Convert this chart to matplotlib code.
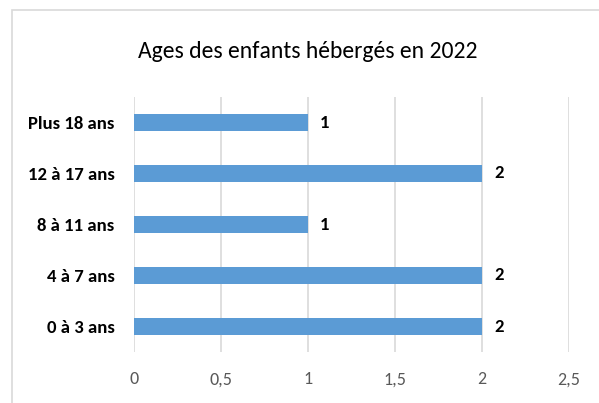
import matplotlib
matplotlib.use("Agg")
import matplotlib.pyplot as plt
from matplotlib.patches import Rectangle

categories = ["0 à 3 ans", "4 à 7 ans", "8 à 11 ans", "12 à 17 ans", "Plus 18 ans"]
values = [2, 2, 1, 2, 1]
xticks = [0, 0.5, 1, 1.5, 2, 2.5]
xtick_labels = ["0", "0,5", "1", "1,5", "2", "2,5"]
title = "Ages des enfants hébergés en 2022"

plt.rcParams['font.family'] = ['Carlito', 'DejaVu Sans']

W, H = 599, 403
fig = plt.figure(figsize=(W/100, H/100), dpi=100)
fig.patch.set_facecolor("white")

# outer frame (chart area border)
fig.add_artist(Rectangle((12/W, -0.1), 1.2, (H-10)/H + 0.1, transform=fig.transFigure,
                         fill=False, edgecolor="#d9d9d9", linewidth=1.2))

left, right = 134/W, 569/W
top, bottom = 1 - 97/H, 1 - 352/H
ax = fig.add_axes([left, bottom, right-left, top-bottom])
ax.barh(range(len(categories)), values, height=0.33, color="#5b9bd5", zorder=3)
ax.set_xlim(0, 2.5)
ax.set_ylim(-0.5, len(categories)-0.5)
ax.set_xticks(xticks)
ax.set_xticklabels(xtick_labels, fontsize=13, color="#595959")
ax.set_yticks(range(len(categories)))
ax.set_yticklabels(categories, fontsize=13.5, fontweight="bold", color="black")
ax.tick_params(axis="both", length=0)
ax.tick_params(axis="x", pad=14)
ax.tick_params(axis="y", pad=14)
ax.grid(axis="x", color="#d9d9d9", linewidth=1.2, zorder=0)
for s in ax.spines.values():
    s.set_visible(False)
for i, v in enumerate(values):
    ax.text(v + 0.07, i, str(v), va="center", ha="left", fontsize=13.5, fontweight="bold")

fig.text(307.5/W, 1 - 51/H, title, ha="center", va="center", fontsize=17)

fig.savefig("out.png", dpi=100)
